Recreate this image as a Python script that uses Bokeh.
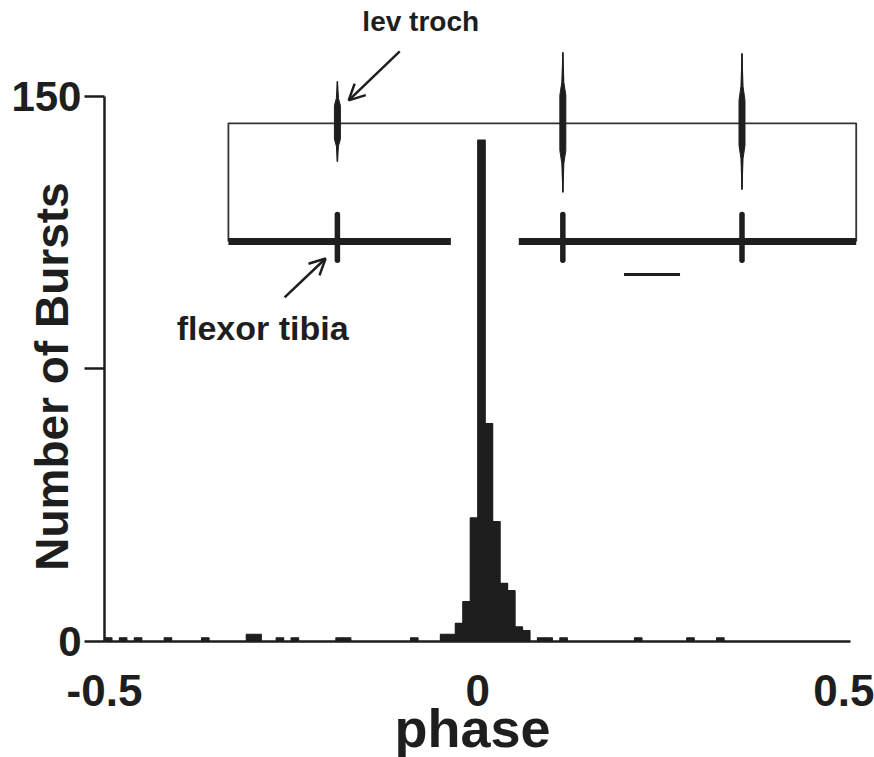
import math
from bokeh.plotting import figure
from bokeh.models import Range1d, FixedTicker, Arrow, OpenHead, Label, ColumnDataSource
from bokeh.embed import file_html
from bokeh.resources import INLINE

# ---------------- data ----------------
BIN_WIDTH = 0.01
bin_left = [-0.50, -0.48, -0.46, -0.42, -0.37, -0.31, -0.30, -0.27, -0.25, -0.19,
            -0.18, -0.09, -0.05, -0.04, -0.03, -0.02, -0.01, 0.00, 0.01, 0.02,
            0.03, 0.04, 0.05, 0.06, 0.08, 0.09, 0.11, 0.21, 0.28, 0.32]
counts = [1, 1, 1, 1, 1, 2, 2, 1, 1, 1,
          1, 1, 2, 2, 5, 11, 34, 138, 60, 33,
          16, 14, 4, 3, 1, 1, 1, 1, 1, 1]

x_ticks = [-0.5, 0.0, 0.5]
x_tick_labels = ["-0.5", "0", "0.5"]
y_ticks = [0, 75, 150]
y_tick_labels = ["0", "", "150"]

# inset: recording traces (lev troch on top, flexor tibia below)
inset_left, inset_right = -0.334, 0.507
top_trace_y = 142.6
bottom_trace_y = 110.1
bottom_seg_start = [-0.334, 0.055]
bottom_seg_end = [-0.036, 0.507]
burst_x = [-0.188, 0.114, 0.354]
top_burst_lo = [132.1, 123.6, 124.4]
top_burst_hi = [154.1, 162.1, 161.8]
top_core_lo = [138.2, 135.1, 136.5]
top_core_hi = [147.5, 150.3, 148.9]
bottom_burst_lo = [104.9, 104.9, 104.9]
bottom_burst_hi = [117.5, 117.5, 117.5]
scale_bar_x = [0.196, 0.271]
scale_bar_y = 101.0

# ---------------- figure ----------------
INK = "#1e1e1e"
FONT = "Liberation Sans"

# the frame fills the canvas; the axes sit at fixed data positions inside it
p = figure(frame_width=874, frame_height=757,
           x_range=Range1d(-0.6393, 0.5315), y_range=Range1d(-31.92, 176.4),
           output_backend="svg", toolbar_location=None,
           min_border_left=0, min_border_right=0,
           min_border_top=0, min_border_bottom=0)
p.outline_line_color = None
p.grid.visible = False
p.background_fill_color = "white"
p.border_fill_color = "white"

src = ColumnDataSource(dict(
    left=bin_left,
    right=[b + BIN_WIDTH for b in bin_left],
    top=counts,
    bottom=[0] * len(counts),
))
p.quad(left="left", right="right", top="top", bottom="bottom", source=src,
       fill_color=INK, line_color=INK, line_width=1.2)

# inset traces
p.line([inset_left, inset_left, inset_right, inset_right],
       [bottom_trace_y, top_trace_y, top_trace_y, bottom_trace_y],
       line_color="#333333", line_width=1.8)
p.segment(x0=bottom_seg_start, y0=[bottom_trace_y] * 2,
          x1=bottom_seg_end, y1=[bottom_trace_y] * 2,
          line_color=INK, line_width=7)

w_mid = 0.004
xs, ys = [], []
for bx, lo, hi, clo, chi in zip(burst_x, top_burst_lo, top_burst_hi, top_core_lo, top_core_hi):
    xs.append([bx, bx + w_mid * 0.35, bx + w_mid, bx + w_mid, bx + w_mid * 0.35,
               bx, bx - w_mid * 0.35, bx - w_mid, bx - w_mid, bx - w_mid * 0.35])
    ys.append([hi, chi + (hi - chi) * 0.3, chi, clo, clo - (clo - lo) * 0.3,
               lo, clo - (clo - lo) * 0.3, clo, chi, chi + (hi - chi) * 0.3])
p.patches(xs, ys, fill_color=INK, line_color=INK, line_width=1)
p.segment(x0=burst_x, y0=top_burst_lo, x1=burst_x, y1=top_burst_hi,
          line_color=INK, line_width=1.5)

p.segment(x0=burst_x, y0=bottom_burst_lo, x1=burst_x, y1=bottom_burst_hi,
          line_color=INK, line_width=5.5, line_cap="round")

p.segment(x0=[scale_bar_x[0]], y0=[scale_bar_y], x1=[scale_bar_x[1]], y1=[scale_bar_y],
          line_color=INK, line_width=3)

# arrows + labels
p.add_layout(Arrow(end=OpenHead(size=16, line_width=2.5, line_color=INK),
                   x_start=-0.1045, y_start=162.4, x_end=-0.1729, y_end=148.9,
                   line_width=2.5, line_color=INK))
p.add_layout(Arrow(end=OpenHead(size=16, line_width=2.5, line_color=INK),
                   x_start=-0.2587, y_start=94.7, x_end=-0.2038, y_end=105.4,
                   line_width=2.5, line_color=INK))
p.add_layout(Label(x=-0.0764, y=170.7, text="lev troch", text_align="center",
                   text_baseline="middle", text_font=FONT, text_font_style="bold",
                   text_font_size="28px", text_color=INK))
p.add_layout(Label(x=-0.2882, y=86.2, text="flexor tibia", text_align="center",
                   text_baseline="middle", text_font=FONT, text_font_style="bold",
                   text_font_size="34px", text_color=INK))

# axis titles
p.add_layout(Label(x=-0.5697, y=72.9, text="Number of Bursts", angle=90, angle_units="deg",
                   text_align="center", text_baseline="middle", text_font=FONT,
                   text_font_style="bold", text_font_size="46px", text_color=INK))
p.add_layout(Label(x=-0.007, y=-23.9, text="phase",
                   text_align="center", text_baseline="middle", text_font=FONT,
                   text_font_style="bold", text_font_size="54px", text_color=INK))

# axes
xa = p.xaxis[0]
xa.fixed_location = 0
xa.ticker = FixedTicker(ticks=x_ticks)
xa.major_label_overrides = dict(zip(x_ticks, x_tick_labels))
xa.bounds = (-0.5, 0.5)
xa.major_tick_out = 0
xa.major_tick_in = 0
xa.minor_tick_out = 0
xa.minor_tick_in = 0
xa.axis_line_width = 2.5
xa.axis_line_color = INK
xa.major_label_standoff = 33
xa.major_label_text_font = FONT
xa.major_label_text_font_style = "bold"
xa.major_label_text_font_size = "44px"
xa.major_label_text_color = INK

ya = p.yaxis[0]
ya.fixed_location = -0.5
ya.ticker = FixedTicker(ticks=y_ticks)
ya.major_label_overrides = dict(zip(y_ticks, y_tick_labels))
ya.bounds = (0, 150)
ya.major_tick_out = 20
ya.major_tick_in = 0
ya.minor_tick_out = 0
ya.minor_tick_in = 0
ya.major_tick_line_width = 2.5
ya.major_tick_line_color = INK
ya.axis_line_width = 2.5
ya.axis_line_color = INK
ya.major_label_standoff = 3
ya.major_label_text_font = FONT
ya.major_label_text_font_style = "bold"
ya.major_label_text_font_size = "42px"
ya.major_label_text_color = INK

open("out.html", "w").write(file_html(p, INLINE))
